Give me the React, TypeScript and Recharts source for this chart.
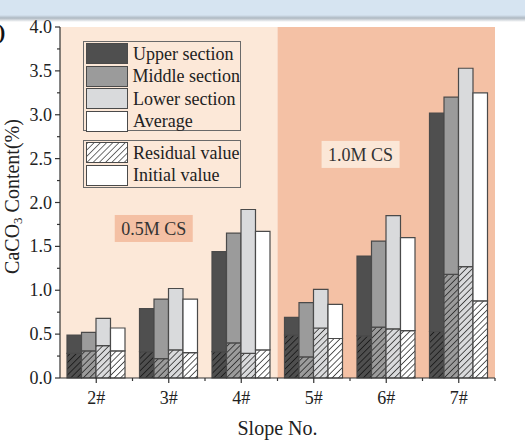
import React from 'react';
import { BarChart, Bar, XAxis, YAxis, ReferenceArea } from 'recharts';

const categories = ['2#', '3#', '4#', '5#', '6#', '7#'];
const upperTotal = [0.49, 0.79, 1.44, 0.69, 1.39, 3.02];
const upperResidual = [0.28, 0.30, 0.30, 0.49, 0.48, 0.53];
const middleTotal = [0.52, 0.90, 1.65, 0.86, 1.56, 3.20];
const middleResidual = [0.31, 0.22, 0.40, 0.24, 0.58, 1.18];
const lowerTotal = [0.68, 1.02, 1.92, 1.01, 1.85, 3.53];
const lowerResidual = [0.37, 0.32, 0.28, 0.57, 0.56, 1.27];
const averageTotal = [0.57, 0.90, 1.67, 0.84, 1.60, 3.25];
const averageResidual = [0.31, 0.29, 0.32, 0.45, 0.54, 0.88];
const yTicks = [0, 0.5, 1, 1.5, 2, 2.5, 3, 3.5, 4];
const sectionNames = ['Upper section', 'Middle section', 'Lower section', 'Average'];
const hatchNames = ['Residual value', 'Initial value'];
const regionLabels = ['0.5M CS', '1.0M CS'];
const xTitle = 'Slope No.';

const FONT = '"Liberation Serif", "Times New Roman", serif';
const EDGE = '#4a4a4a';
const HATCH = 4.4;

const sections = [
  { key: 'upper', total: upperTotal, res: upperResidual, color: '#4f4f4f', hatch: '#141414' },
  { key: 'middle', total: middleTotal, res: middleResidual, color: '#9b9b9b', hatch: '#222222' },
  { key: 'lower', total: lowerTotal, res: lowerResidual, color: '#d9dadc', hatch: '#262626' },
  { key: 'average', total: averageTotal, res: averageResidual, color: '#ffffff', hatch: '#262626' },
];

const data = categories.map((name, i) => {
  const row: Record<string, any> = { name };
  sections.forEach((s) => {
    row[s.key + 'Res'] = s.res[i];
    row[s.key + 'Top'] = +(s.total[i] - s.res[i]).toFixed(3);
  });
  return row;
});

const RegionLabel = (props: any) => {
  const vb = props.viewBox || {};
  const cx = vb.x + vb.width * props.fx;
  const cy = vb.y + vb.height * props.fy;
  return (
    <g>
      <rect x={cx - 39} y={cy - 13.5} width={78} height={27} fill={props.bg} />
      <text x={cx} y={cy + 1} textAnchor="middle" dominantBaseline="central" fontSize={18} fill="#333" fontFamily={FONT}>
        {props.text}
      </text>
    </g>
  );
};

const YLabel = (props: any) => {
  const vb = props.viewBox || {};
  const cx = vb.x + 12;
  const cy = vb.y + vb.height / 2 - 6;
  return (
    <text x={cx} y={cy} transform={`rotate(-90, ${cx}, ${cy})`} textAnchor="middle" dominantBaseline="central" fontSize={20} fill="#222" fontFamily={FONT}>
      CaCO<tspan fontSize={13} dy={5}>3</tspan>
      <tspan dy={-5}> Content(%)</tspan>
    </text>
  );
};

const XLabel = (props: any) => {
  const vb = props.viewBox || {};
  const cx = vb.x + vb.width / 2;
  return (
    <text x={cx} y={vb.y + 50} textAnchor="middle" dominantBaseline="central" fontSize={20} fill="#222" fontFamily={FONT}>
      {xTitle}
    </text>
  );
};

const XTick = (props: any) => {
  const { x, y, payload, width } = props;
  const w = typeof width === 'number' ? width : 435;
  const half = w / categories.length / 2;
  const axisY = y - 11;
  return (
    <g>
      <line x1={x + half} x2={x + half} y1={axisY} y2={axisY + 3} stroke="#333" strokeWidth={1.2} />
      <text x={x} y={y} dy={15} textAnchor="middle" fontSize={18} fill="#222" fontFamily={FONT}>
        {payload.value}
      </text>
    </g>
  );
};

const YTick = (props: any) => {
  const { x, y, payload, height, index } = props;
  const h = typeof height === 'number' ? height : 351;
  const halfStep = h / (yTicks.length - 1) / 2;
  const axisX = x + 8;
  return (
    <g>
      {index > 0 && (
        <line x1={axisX} x2={axisX - 3} y1={y + halfStep} y2={y + halfStep} stroke="#333" strokeWidth={1.2} />
      )}
      <text x={x} y={y} textAnchor="end" dominantBaseline="central" fontSize={18} fill="#222" fontFamily={FONT}>
        {Number(payload.value).toFixed(1)}
      </text>
    </g>
  );
};

const HatchSwatch = ({ bg, line, w, h }: any) => (
  <svg width={w} height={h} style={{ display: 'block' }}>
    <defs>
      <pattern id={'lg-' + bg.replace('#', '')} patternUnits="userSpaceOnUse" width={HATCH} height={HATCH} patternTransform="rotate(45)">
        <rect width={HATCH} height={HATCH} fill={bg} />
        <line x1={0} y1={0} x2={0} y2={HATCH} stroke={line} strokeWidth={1.5} />
      </pattern>
    </defs>
    <rect x={0} y={0} width={w} height={h} fill={`url(#lg-${bg.replace('#', '')})`} />
  </svg>
);

const LegendRow = ({ label, swatch }: any) => (
  <div style={{ display: 'flex', alignItems: 'center', height: 20, marginBottom: 2.5 }}>
    <div style={{ width: 40, height: 19, border: `1.5px solid ${EDGE}`, boxSizing: 'content-box', overflow: 'hidden' }}>{swatch}</div>
    <span style={{ marginLeft: 5, fontSize: 18, color: '#222', fontFamily: FONT, lineHeight: '20px', whiteSpace: 'nowrap' }}>{label}</span>
  </div>
);

export default function App() {
  return (
    <div style={{ position: 'absolute', left: 0, top: 0, width: 525, height: 447, background: '#ffffff', overflow: 'hidden', fontFamily: FONT }}>
      <div style={{ position: 'absolute', left: 0, top: 0, width: 525, height: 22, background: 'linear-gradient(to bottom, #d6e4f1 0%, #d6e4f1 68%, #aeb8c2 82%, #ffffff 100%)' }} />
      <div style={{ position: 'absolute', left: -2, top: 19, fontSize: 22, fontWeight: 'bold', color: '#111', fontFamily: FONT }}>)</div>
      <BarChart
        width={525}
        height={447}
        data={data}
        margin={{ top: 27, right: 30, bottom: 9, left: 0 }}
        barSize={14.5}
        barGap={0}
        style={{ position: 'absolute', left: 0, top: 0 }}
      >
        <defs>
          {sections.map((s) => (
            <pattern key={s.key} id={'hatch-' + s.key} patternUnits="userSpaceOnUse" width={HATCH} height={HATCH} patternTransform="rotate(45)">
              <rect width={HATCH} height={HATCH} fill={s.color} />
              <line x1={0} y1={0} x2={0} y2={HATCH} stroke={s.hatch} strokeWidth={1.5} />
            </pattern>
          ))}
        </defs>
        <ReferenceArea
          x1={categories[0]}
          x2={categories[2]}
          fill="#fce8d8"
          fillOpacity={1}
          stroke="none"
          label={<RegionLabel text={regionLabels[0]} fx={0.431} fy={0.574} bg="#f4c0a4" />}
        />
        <ReferenceArea
          x1={categories[3]}
          x2={categories[5]}
          fill="#f4c1a5"
          fillOpacity={1}
          stroke="none"
          label={<RegionLabel text={regionLabels[1]} fx={0.382} fy={0.363} bg="#fbe7d7" />}
        />
        <XAxis
          dataKey="name"
          tickSize={5}
          tickMargin={6}
          tick={<XTick />}
          axisLine={{ stroke: '#333', strokeWidth: 1.2 }}
          tickLine={{ stroke: '#333', strokeWidth: 1.2 }}
          height={60}
          label={<XLabel />}
          interval={0}
        />
        <XAxis xAxisId="top" dataKey="name" orientation="top" height={0} tick={false} tickLine={false} axisLine={{ stroke: '#333', strokeWidth: 1.2 }} />
        <YAxis
          domain={[0, 4]}
          ticks={yTicks}
          width={60}
          tickSize={5}
          tickMargin={3}
          tick={<YTick />}
          axisLine={{ stroke: '#333', strokeWidth: 1.2 }}
          tickLine={{ stroke: '#333', strokeWidth: 1.2 }}
          label={<YLabel />}
          interval={0}
        />
        <YAxis yAxisId="right" orientation="right" domain={[0, 4]} width={0} tick={false} tickLine={false} axisLine={{ stroke: '#333', strokeWidth: 1.2 }} />
        {sections.flatMap((s) => [
          <Bar key={s.key + 'Res'} dataKey={s.key + 'Res'} stackId={s.key} fill={`url(#hatch-${s.key})`} stroke={EDGE} strokeWidth={1.2} isAnimationActive={false} />,
          <Bar key={s.key + 'Top'} dataKey={s.key + 'Top'} stackId={s.key} fill={s.color} stroke={EDGE} strokeWidth={1.2} isAnimationActive={false} />,
        ])}
      </BarChart>
      <div style={{ position: 'absolute', left: 83, top: 41, width: 158, height: 90, border: '1.5px solid #6a6a6a', paddingTop: 1.5, paddingLeft: 2, boxSizing: 'border-box' }}>
        {sectionNames.map((n, i) => (
          <LegendRow key={n} label={n} swatch={<div style={{ width: 40, height: 19, background: sections[i].color }} />} />
        ))}
      </div>
      <div style={{ position: 'absolute', left: 83, top: 140, width: 158, height: 48, border: '1.5px solid #6a6a6a', paddingTop: 1.5, paddingLeft: 2, boxSizing: 'border-box' }}>
        <LegendRow label={hatchNames[0]} swatch={<HatchSwatch bg="#ffffff" line="#444" w={40} h={19} />} />
        <LegendRow label={hatchNames[1]} swatch={<div style={{ width: 40, height: 19, background: '#ffffff' }} />} />
      </div>
    </div>
  );
}
